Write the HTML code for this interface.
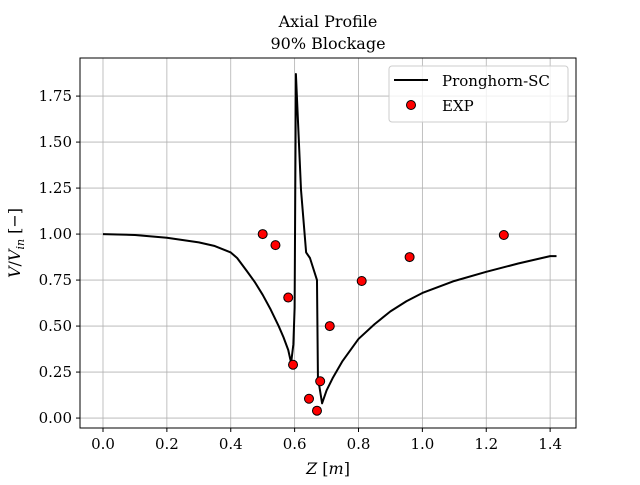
<!DOCTYPE html>
<html><head><meta charset="utf-8"><style>
body{margin:0;background:#fff}
svg text{font-family:"DejaVu Serif","Liberation Serif",serif;fill:#000}
</style></head><body>
<svg id="chart" width="640" height="480" xmlns="http://www.w3.org/2000/svg">
<rect width="640" height="480" fill="#fff"/>
<g id="grid"></g>
<g id="lines"></g>
<g id="axes"></g>
<text x="328" y="27" font-size="16" text-anchor="middle">Axial Profile</text>
<text x="328" y="49" font-size="16" text-anchor="middle">90% Blockage</text>
<text x="328" y="474" font-size="16" text-anchor="middle"><tspan font-style="italic">Z</tspan> [<tspan font-style="italic">m</tspan>]</text>
<text transform="translate(20,243) rotate(-90)" font-size="16" text-anchor="middle"><tspan font-style="italic">V</tspan>/<tspan font-style="italic">V</tspan><tspan font-style="italic" font-size="11" dy="4">in</tspan><tspan dy="-4"> [−]</tspan></text>
<g>
<rect x="389" y="66" width="179" height="56" rx="3" fill="#fff" fill-opacity="0.8" stroke="#ccc"/>
<line x1="394" y1="80" x2="428" y2="80" stroke="#000" stroke-width="2"/>
<text x="442" y="86" font-size="15">Pronghorn-SC</text>
<circle cx="411" cy="105" r="4.5" fill="#f00" stroke="#000"/>
<text x="442" y="111" font-size="15">EXP</text>
</g>
</svg>
<script>
const lineX=[0,0.1,0.2,0.3,0.35,0.4,0.42,0.45,0.475,0.5,0.525,0.55,0.565,0.58,0.589,0.596,0.6,0.604,0.62,0.636,0.648,0.67,0.673,0.686,0.7,0.72,0.75,0.8,0.85,0.9,0.95,1.0,1.1,1.2,1.3,1.4,1.42];
const lineY=[1.0,0.995,0.98,0.955,0.935,0.9,0.87,0.8,0.74,0.67,0.59,0.5,0.44,0.37,0.3,0.4,0.6,1.87,1.24,0.9,0.87,0.75,0.22,0.08,0.15,0.22,0.31,0.43,0.51,0.58,0.635,0.68,0.745,0.795,0.84,0.88,0.88];
const expX=[0.5,0.54,0.58,0.595,0.645,0.67,0.68,0.71,0.81,0.96,1.255];
const expY=[1.0,0.94,0.655,0.29,0.105,0.04,0.2,0.5,0.745,0.875,0.995];
const xTicks=["0.0","0.2","0.4","0.6","0.8","1.0","1.2","1.4"];
const yTicks=["0.00","0.25","0.50","0.75","1.00","1.25","1.50","1.75"];
const L=80,R=576,T=58,B=428,x0=-0.072,x1=1.481,y0=-0.054,y1=1.957;
const sx=v=>L+(v-x0)/(x1-x0)*(R-L);
const sy=v=>B-(v-y0)/(y1-y0)*(B-T);
const NS="http://www.w3.org/2000/svg";
function mk(t,a,p){const e=document.createElementNS(NS,t);for(const k in a)e.setAttribute(k,a[k]);p.appendChild(e);return e;}
const g=document.getElementById('grid'),ax=document.getElementById('axes'),ln=document.getElementById('lines');
xTicks.forEach(t=>{const x=sx(+t);
const gl=mk('line',{x1:x,x2:x,y1:T,y2:B,stroke:'#b0b0b0','stroke-width':0.8},g);

mk('line',{x1:x,x2:x,y1:B,y2:B+4,stroke:'#000'},ax);
const tx=mk('text',{x:x,y:B+21,'font-size':15,'text-anchor':'middle'},ax);tx.textContent=t;
});
yTicks.forEach(t=>{const y=sy(+t);
const gl=mk('line',{x1:L,x2:R,y1:y,y2:y,stroke:'#b0b0b0','stroke-width':0.8},g);

mk('line',{x1:L-4,x2:L,y1:y,y2:y,stroke:'#000'},ax);
const tx=mk('text',{x:L-8,y:y+5,'font-size':15,'text-anchor':'end'},ax);tx.textContent=t;
});
const fr=mk('rect',{x:L,y:T,width:R-L,height:B-T,fill:'none',stroke:'#000','stroke-width':1},ax);

const p=mk('polyline',{points:lineX.map((v,i)=>sx(v)+','+sy(lineY[i])).join(' '),fill:'none',stroke:'#000','stroke-width':2,'stroke-linejoin':'round'},ln);

expX.forEach((v,i)=>{const c=mk('circle',{cx:sx(v),cy:sy(expY[i]),r:4.5,fill:'#f00',stroke:'#000','stroke-width':1},ln);
});
</script>
</body></html>
